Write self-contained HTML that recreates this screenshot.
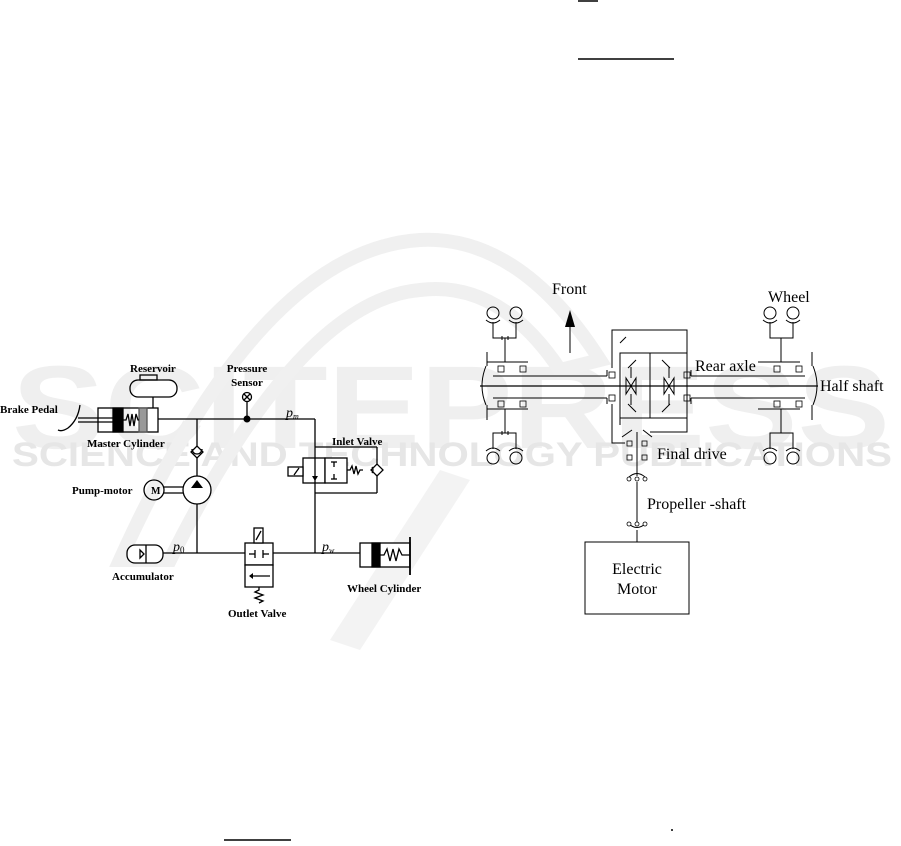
<!DOCTYPE html>
<html><head><meta charset="utf-8"><style>
html,body{margin:0;padding:0;background:#fff}
svg{display:block}
.b{font-family:"Liberation Serif",serif;font-weight:bold;font-size:11px}
.r{font-family:"Liberation Serif",serif;font-size:16px}
</style></head><body>
<svg width="901" height="846" viewBox="0 0 901 846" xmlns="http://www.w3.org/2000/svg">
<!-- watermark -->
<g fill="#efefef" font-family="Liberation Sans,sans-serif" font-weight="bold">
<text x="12" y="448" font-size="118" textLength="878" lengthAdjust="spacingAndGlyphs">SCITEPRESS</text>
<text x="12" y="466" font-size="34" textLength="880" lengthAdjust="spacingAndGlyphs" fill="#e6e6e6">SCIENCE AND TECHNOLOGY PUBLICATIONS</text>
</g>
<path d="M120 560 Q260 250 420 240 Q520 235 600 360 L560 370 Q500 280 420 290 Q300 300 170 560 Z" fill="none" stroke="#f0f0f0" stroke-width="14"/>
<path d="M330 640 L440 470 L470 480 L360 650 Z" fill="#f3f3f3"/>

<!-- top/bottom fragments -->
<g stroke="#000" stroke-width="1.5">
<line x1="578" y1="1" x2="598" y2="1"/>
<line x1="578" y1="59" x2="674" y2="59"/>
<line x1="224" y1="840" x2="291" y2="840"/>
</g>
<circle cx="672" cy="830" r="1" fill="#000"/>

<!-- LEFT DIAGRAM -->
<g stroke="#000" stroke-width="1.3" fill="none">
<!-- reservoir -->
<rect x="130" y="380" width="47" height="17" rx="8"/>
<rect x="140" y="375" width="17" height="5"/>
<line x1="153" y1="397" x2="153" y2="408"/>
<!-- master cylinder -->
<rect x="98" y="408" width="60" height="24"/>
<rect x="113" y="408" width="10" height="24" fill="#000"/>
<rect x="139" y="408" width="8" height="24" fill="#999" stroke="#555"/>
<polyline points="123,420 126,420 128,414 130,426 132,414 134,426 136,414 138,420 139,420"/>
<line x1="78" y1="418" x2="113" y2="418"/>
<line x1="78" y1="422" x2="113" y2="422"/>
<path d="M80 405 Q78 420 68 428 Q62 432 58 430"/>
<!-- main line -->
<line x1="158" y1="419" x2="315" y2="419"/>
<line x1="315" y1="419" x2="315" y2="553"/>
<line x1="247" y1="419" x2="247" y2="402"/>
<circle cx="247" cy="397" r="4.5"/>
<line x1="244" y1="394" x2="250" y2="400"/><line x1="250" y1="394" x2="244" y2="400"/>
<!-- pump branch -->
<line x1="197" y1="419" x2="197" y2="553"/>
<path d="M191 452 L197 446 L203 452 L197 458 Z" fill="#fff"/>
<path d="M192 449 A5 5 0 0 0 202 449" />
<circle cx="197" cy="490" r="14" fill="#fff"/>
<circle cx="154" cy="490" r="10"/>
<line x1="164" y1="487" x2="183" y2="487"/>
<line x1="164" y1="493" x2="183" y2="493"/>
<!-- bottom line -->
<line x1="163" y1="553" x2="360" y2="553"/>
<!-- accumulator -->
<rect x="127" y="545" width="36" height="18" rx="8" fill="#fff"/>
<line x1="146" y1="545" x2="146" y2="563"/>
<path d="M140 550 L144 554 L140 558 Z"/>
<!-- outlet valve -->
<rect x="245" y="543" width="28" height="22" fill="#fff"/>
<rect x="245" y="565" width="28" height="22" fill="#fff"/>
<rect x="254" y="528" width="9" height="15" fill="#fff"/>
<line x1="256" y1="540" x2="261" y2="531"/>
<line x1="249" y1="554" x2="255" y2="554"/><line x1="255" y1="550" x2="255" y2="558"/>
<line x1="263" y1="554" x2="269" y2="554"/><line x1="263" y1="550" x2="263" y2="558"/>
<line x1="250" y1="576" x2="270" y2="576"/>
<polyline points="259,587 259,590 255,592 263,595 255,598 263,601 259,603"/>
<!-- inlet valve -->
<line x1="315" y1="447" x2="377" y2="447"/>
<line x1="377" y1="447" x2="377" y2="493"/>
<line x1="377" y1="493" x2="315" y2="493"/>
<rect x="303" y="458" width="22" height="25" fill="#fff"/>
<rect x="325" y="458" width="22" height="25" fill="#fff"/>
<rect x="288" y="467" width="15" height="9" fill="#fff"/>
<line x1="294" y1="475" x2="299" y2="468"/>
<line x1="315" y1="458" x2="315" y2="483"/>
<line x1="331" y1="462" x2="337" y2="462"/><line x1="334" y1="462" x2="334" y2="467"/>
<line x1="331" y1="479" x2="337" y2="479"/><line x1="334" y1="474" x2="334" y2="479"/>
<polyline points="347,470 350,470 352,466 354,474 356,466 358,474 360,470 363,470"/>
<path d="M371 470 L377 464 L383 470 L377 476 Z" fill="#fff"/>
<path d="M372 467 A5 5 0 0 1 372 473"/>
<!-- wheel cylinder -->
<rect x="360" y="543" width="50" height="24" fill="#fff"/>
<rect x="372" y="543" width="8" height="24" fill="#000"/>
<polyline points="380,555 384,555 387,549 390,561 393,549 396,561 399,549 402,555 410,555"/>
<line x1="410" y1="537" x2="410" y2="575" stroke-width="1.8"/>
</g>
<path d="M191 500 L197 492 L203 500 Z" fill="#000" transform="translate(0,-12)"/>
<path d="M312 476 L318 476 L315 481 Z" fill="#000"/>
<path d="M249 576 L253 573 L253 579 Z" fill="#000"/>
<circle cx="247" cy="419" r="3.5" fill="#000"/>
<g class="b">
<text x="130" y="372">Reservoir</text>
<text x="247" y="372" text-anchor="middle">Pressure</text>
<text x="247" y="386" text-anchor="middle">Sensor</text>
<text x="0" y="413">Brake Pedal</text>
<text x="87" y="447">Master Cylinder</text>
<text x="332" y="445">Inlet Valve</text>
<text x="72" y="494">Pump-motor</text>
<text x="112" y="580">Accumulator</text>
<text x="228" y="617">Outlet Valve</text>
<text x="347" y="592">Wheel Cylinder</text>
</g>
<text x="151" y="494" font-family="Liberation Serif,serif" font-weight="bold" font-size="10">M</text>
<g font-family="Liberation Serif,serif" font-style="italic" font-size="14">
<text x="286" y="417">p<tspan font-size="8" dy="2">m</tspan></text>
<text x="173" y="551">p<tspan font-size="9" dy="2" font-style="normal">0</tspan></text>
<text x="322" y="551">p<tspan font-size="8" dy="2">w</tspan></text>
</g>

<!-- RIGHT DIAGRAM -->
<g stroke="#000" stroke-width="1" fill="none">
<!-- front arrow -->
<line x1="570" y1="353" x2="570" y2="320"/>
<!-- wheels -->
<g id="wtop">
<circle cx="493" cy="313" r="6"/><circle cx="516" cy="313" r="6"/>
<path d="M486 320 Q493 326 500 320"/><path d="M509 320 Q516 326 523 320"/>
<polyline points="493,322 493,338 516,338 516,322"/>
<line x1="505" y1="338" x2="505" y2="362"/>
<line x1="502" y1="336" x2="502" y2="340"/><line x1="508" y1="336" x2="508" y2="340"/>
</g>
<g transform="translate(0,771) scale(1,-1)">
<circle cx="493" cy="313" r="6"/><circle cx="516" cy="313" r="6"/>
<path d="M486 320 Q493 326 500 320"/><path d="M509 320 Q516 326 523 320"/>
<polyline points="493,322 493,338 516,338 516,322"/>
<line x1="505" y1="338" x2="505" y2="362"/>
<line x1="502" y1="336" x2="502" y2="340"/><line x1="508" y1="336" x2="508" y2="340"/>
</g>
<g transform="translate(1286,0) scale(-1,1)">
<circle cx="493" cy="313" r="6"/><circle cx="516" cy="313" r="6"/>
<path d="M486 320 Q493 326 500 320"/><path d="M509 320 Q516 326 523 320"/>
<polyline points="493,322 493,338 516,338 516,322"/>
<line x1="505" y1="338" x2="505" y2="362"/>
</g>
<g transform="translate(1286,771) scale(-1,-1)">
<circle cx="493" cy="313" r="6"/><circle cx="516" cy="313" r="6"/>
<path d="M486 320 Q493 326 500 320"/><path d="M509 320 Q516 326 523 320"/>
<polyline points="493,322 493,338 516,338 516,322"/>
<line x1="505" y1="338" x2="505" y2="362"/>
</g>
<!-- hubs -->
<line x1="487" y1="362" x2="528" y2="362"/>
<line x1="487" y1="409" x2="528" y2="409"/>
<line x1="758" y1="362" x2="800" y2="362"/>
<line x1="758" y1="409" x2="800" y2="409"/>
<line x1="487" y1="352" x2="487" y2="366"/><line x1="487" y1="405" x2="487" y2="420"/>
<line x1="812" y1="352" x2="812" y2="366"/><line x1="812" y1="405" x2="812" y2="420"/>
<path d="M486 366 Q478 386 486 405"/>
<path d="M813 366 Q821 386 813 405"/>
<!-- housings -->
<line x1="493" y1="376" x2="607" y2="376"/>
<line x1="493" y1="398" x2="607" y2="398"/>
<line x1="691" y1="376" x2="805" y2="376"/>
<line x1="691" y1="398" x2="805" y2="398"/>
<line x1="480" y1="386" x2="818" y2="386" stroke-width="1.3"/>
<!-- bearings -->
<g stroke-width="0.8">
<rect x="498" y="366" width="6" height="6"/><rect x="520" y="366" width="6" height="6"/>
<rect x="498" y="401" width="6" height="6"/><rect x="520" y="401" width="6" height="6"/>
<rect x="774" y="366" width="6" height="6"/><rect x="796" y="366" width="6" height="6"/>
<rect x="774" y="401" width="6" height="6"/><rect x="796" y="401" width="6" height="6"/>
<rect x="609" y="372" width="6" height="6"/><rect x="609" y="395" width="6" height="6"/>
<rect x="684" y="372" width="6" height="6"/><rect x="684" y="395" width="6" height="6"/>
<rect x="627" y="441" width="5" height="5"/><rect x="642" y="441" width="5" height="5"/>
<rect x="627" y="455" width="5" height="5"/><rect x="642" y="455" width="5" height="5"/>
</g>
<!-- differential -->
<polyline points="612,368 612,330 687,330 687,368"/>
<polyline points="607,370 607,376"/><polyline points="607,398 607,404"/>
<polyline points="691,370 691,376"/><polyline points="691,398 691,404"/>
<rect x="620" y="353" width="67" height="65"/>
<line x1="650" y1="353" x2="650" y2="418"/>
<line x1="620" y1="343" x2="626" y2="337"/>
<line x1="628" y1="368" x2="636" y2="360"/><line x1="662" y1="360" x2="670" y2="368"/>
<line x1="628" y1="404" x2="636" y2="412"/><line x1="662" y1="412" x2="670" y2="404"/>
<path d="M626 378 L636 394 L636 378 L626 394 Z"/>
<path d="M664 378 L674 394 L674 378 L664 394 Z"/>
<line x1="631" y1="367" x2="631" y2="378"/><line x1="631" y1="394" x2="631" y2="405"/>
<line x1="669" y1="367" x2="669" y2="378"/><line x1="669" y1="394" x2="669" y2="405"/>
<!-- final drive -->
<polyline points="612,404 612,443 625,443"/>
<polyline points="687,404 687,432 650,432"/>
<line x1="620" y1="418" x2="620" y2="425"/>
<line x1="622" y1="437" x2="632" y2="430"/><line x1="643" y1="430" x2="652" y2="437"/>
<line x1="637" y1="432" x2="637" y2="476"/>
<path d="M629 477 Q637 470 645 477"/>
<line x1="637" y1="482" x2="637" y2="523"/>
<path d="M629 524 Q637 531 645 524"/>
<line x1="637" y1="530" x2="637" y2="542"/>
<rect x="585" y="542" width="104" height="72"/>
</g>
<g fill="#fff" stroke="#000" stroke-width="0.8">
<circle cx="629" cy="479" r="2"/><circle cx="637" cy="479" r="2"/><circle cx="645" cy="479" r="2"/>
<circle cx="629" cy="524" r="2"/><circle cx="637" cy="524" r="2"/><circle cx="645" cy="524" r="2"/>
</g>
<path d="M565 327 L570 310 L575 327 Z" fill="#000"/>
<g class="r" fill="#000">
<text x="552" y="294">Front</text>
<text x="768" y="302">Wheel</text>
<text x="695" y="371">Rear axle</text>
<text x="820" y="391">Half shaft</text>
<text x="657" y="459">Final drive</text>
<text x="647" y="509">Propeller -shaft</text>
<text x="637" y="574" text-anchor="middle">Electric</text>
<text x="637" y="594" text-anchor="middle">Motor</text>
</g>
</svg>
</body></html>
